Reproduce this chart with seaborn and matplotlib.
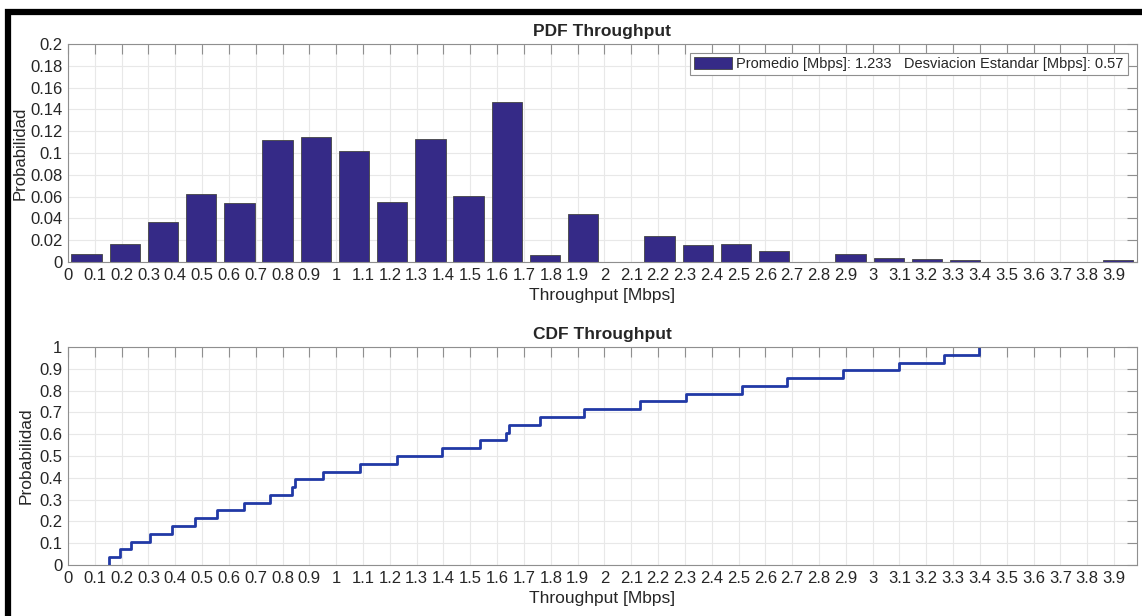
import numpy as np
import matplotlib
matplotlib.use("Agg")
import matplotlib.pyplot as plt
from matplotlib.patches import Rectangle
import seaborn as sns

# ── Data ────────────────────────────────────────────────────
bin_centers = [0.070, 0.212, 0.355, 0.497, 0.640, 0.782, 0.924, 1.067,
               1.209, 1.352, 1.494, 1.636, 1.779, 1.921, 2.064, 2.206,
               2.348, 2.491, 2.633, 2.776, 2.918, 3.061, 3.203, 3.345,
               3.488, 3.630, 3.773, 3.915]
pdf_prob = [0.0070, 0.0161, 0.0368, 0.0626, 0.0538, 0.1122, 0.1149, 0.1015,
            0.0553, 0.1128, 0.0608, 0.1465, 0.0064, 0.0441, 0.0, 0.0240,
            0.0155, 0.0167, 0.0100, 0.0, 0.0070, 0.0036, 0.0030, 0.0018,
            0.0, 0.0, 0.0, 0.0018]

# throughput samples behind the empirical CDF
cdf_samples = [0.152, 0.193, 0.235, 0.305, 0.389, 0.473, 0.557, 0.655,
               0.753, 0.837, 0.848, 0.949, 1.088, 1.228, 1.396, 1.537,
               1.633, 1.645, 1.759, 1.925, 2.134, 2.303, 2.512, 2.681,
               2.890, 3.099, 3.267, 3.395]

mean_mbps = 1.233
std_mbps = 0.57

x_ticks = [0.0, 0.1, 0.2, 0.3, 0.4, 0.5, 0.6, 0.7, 0.8, 0.9,
           1.0, 1.1, 1.2, 1.3, 1.4, 1.5, 1.6, 1.7, 1.8, 1.9,
           2.0, 2.1, 2.2, 2.3, 2.4, 2.5, 2.6, 2.7, 2.8, 2.9,
           3.0, 3.1, 3.2, 3.3, 3.4, 3.5, 3.6, 3.7, 3.8, 3.9]
pdf_y_ticks = [0, 0.02, 0.04, 0.06, 0.08, 0.1, 0.12, 0.14, 0.16, 0.18, 0.2]
cdf_y_ticks = [0, 0.1, 0.2, 0.3, 0.4, 0.5, 0.6, 0.7, 0.8, 0.9, 1.0]

# ── Style ────────────────────────────────────────────────────
sns.set_theme(style="whitegrid")
plt.rcParams.update({
    'font.family': ['Liberation Sans', 'DejaVu Sans'],
    'axes.edgecolor': '#8f8f8f',
    'axes.linewidth': 0.8,
    'grid.color': '#e8e8e8',
    'grid.linewidth': 0.8,
    'xtick.direction': 'in',
    'ytick.direction': 'in',
    'xtick.color': '#8f8f8f',
    'ytick.color': '#8f8f8f',
    'xtick.labelcolor': '#262626',
    'ytick.labelcolor': '#262626',
    'xtick.major.size': 7,
    'ytick.major.size': 7,
    'xtick.major.width': 0.8,
    'ytick.major.width': 0.8,
    'xtick.top': True,
    'ytick.right': True,
})

BAR_COLOR = '#352a87'
LINE_COLOR = '#2139a6'

fig = plt.figure(figsize=(11.42, 6.16), dpi=100)
ax1 = fig.add_axes([0.0595, 0.5747, 0.936, 0.3539])
ax2 = fig.add_axes([0.0595, 0.0828, 0.936, 0.3539])


def fmt(v):
    return f"{v:g}"


# ── 1. PDF ───────────────────────────────────────────────────
sns.barplot(x=bin_centers, y=pdf_prob, native_scale=True, width=0.8,
            color=BAR_COLOR, saturation=1, edgecolor='#444444', linewidth=0.6,
            errorbar=None, ax=ax1,
            label=f"Promedio [Mbps]: {mean_mbps}   Desviacion Estandar [Mbps]: {std_mbps}")
ax1.set_xlim(0, 3.985)
ax1.set_ylim(0, 0.2)
ax1.set_yticks(pdf_y_ticks)
ax1.set_yticklabels([fmt(v) for v in pdf_y_ticks])
ax1.set_title('PDF Throughput', fontsize=12.5, fontweight='bold', pad=6)
ax1.set_ylabel('Probabilidad', fontsize=12)
ax1.yaxis.set_label_coords(-0.038, 0.5)
leg = ax1.legend(loc='upper right', fontsize=10.5, frameon=True, fancybox=False,
                 framealpha=1, edgecolor='#8f8f8f', handlelength=2.6,
                 handleheight=0.85, borderpad=0.3, handletextpad=0.3,
                 borderaxespad=0.6)
leg.get_frame().set_linewidth(0.8)

# ── 2. CDF ───────────────────────────────────────────────────
sns.ecdfplot(x=cdf_samples, color=LINE_COLOR, linewidth=2, ax=ax2)
line = ax2.lines[0]
xd, yd = line.get_data()
xd = np.asarray(xd, dtype=float)
xd[0] = xd[1]          # start the staircase at the first sample, not -inf
line.set_data(xd, yd)
ax2.set_xlim(0, 3.985)
ax2.set_ylim(0, 1)
ax2.set_yticks(cdf_y_ticks)
ax2.set_yticklabels([fmt(v) for v in cdf_y_ticks])
ax2.set_title('CDF Throughput', fontsize=12.5, fontweight='bold', pad=6)
ax2.set_ylabel('Probabilidad', fontsize=12.5)
ax2.yaxis.set_label_coords(-0.032, 0.5)

for ax in (ax1, ax2):
    ax.set_xticks(x_ticks)
    ax.set_xticklabels([fmt(v) for v in x_ticks])
    ax.tick_params(labelsize=12, pad=4)
    ax.set_xlabel('Throughput [Mbps]', fontsize=12.5, labelpad=4)
    ax.grid(True, which='major')
    ax.set_axisbelow(True)
    for s in ax.spines.values():
        s.set_visible(True)
        s.set_color('#8f8f8f')

# black frame from the screenshot
fig.add_artist(Rectangle((8 / 1142, -0.1), 1.2, 1.1 - 11.5 / 616,
                         transform=fig.transFigure, fill=False,
                         edgecolor='black', linewidth=4.5, clip_on=False))

fig.savefig('out.png', dpi=100)
